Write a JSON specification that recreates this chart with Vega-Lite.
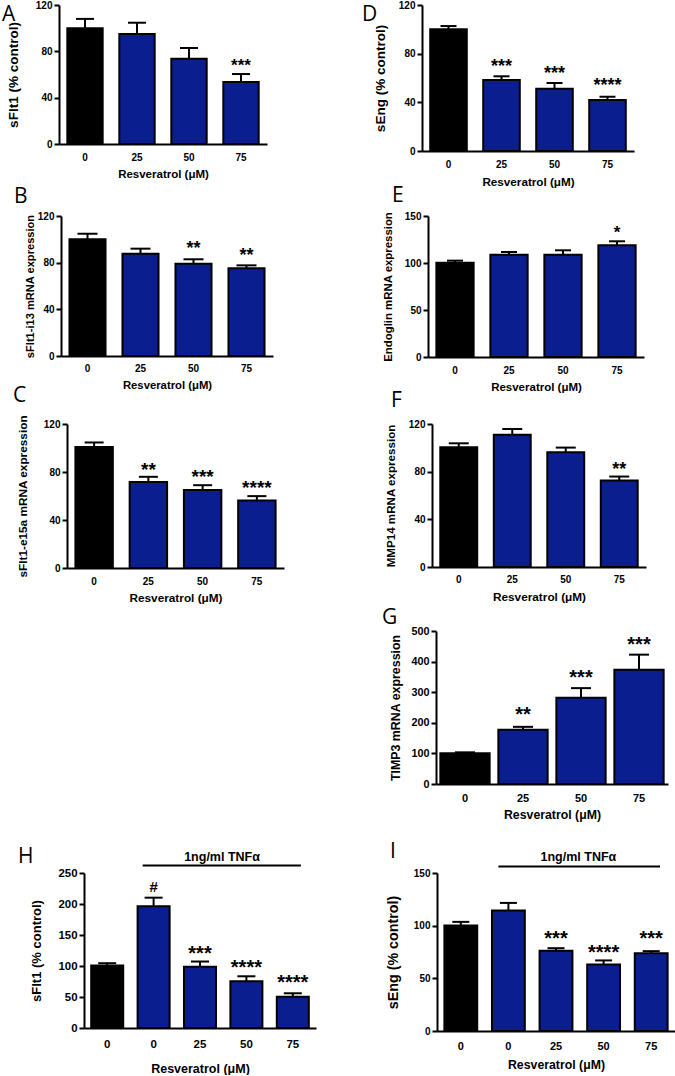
{
"$schema": "https://vega.github.io/schema/vega-lite/v6.json",
"background": "white",
"padding": 0,
"config": {
  "view": {"stroke": null},
  "axis": {"domainColor": "#000", "domainWidth": 2, "tickColor": "#000", "tickWidth": 2, "labelColor": "#000", "titleColor": "#000", "labelFont": "Liberation Sans", "titleFont": "Liberation Sans", "labelFontWeight": "bold", "titleFontWeight": "bold", "grid": false},
  "axisX": {"ticks": false, "tickSize": 0, "labelAngle": 0},
  "axisY": {"tickSize": 5, "labelPadding": 2, "labelOverlap": false}
},
"spacing": -8,
"vconcat": [
  {"spacing": 0, "hconcat": [
   {"width": 2, "height": 186.7, "data": {"values": [{}]}, "mark": {"type": "point", "opacity": 0, "size": 1}, "encoding": {}},
   {"width": 208, "height": 139, "resolve": {"scale": {"x": "independent"}},
    "layer": [
     {"data": {"values": [{"dose": "0", "g": "c", "m": 100, "u": 108}, {"dose": "25", "g": "r", "m": 95, "u": 104.7}, {"dose": "50", "g": "r", "m": 73.6, "u": 82.9}, {"dose": "75", "g": "r", "m": 53.5, "u": 60.4, "s": "***", "sy": 71.9}]},
      "encoding": {"x": {"field": "dose", "type": "nominal", "sort": ["0", "25", "50", "75"], "title": "Resveratrol (μM)", "scale": {"paddingInner": 0.32, "paddingOuter": 0.16}, "axis": {"labelFontSize": 10, "labelPadding": 8, "titleFontSize": 11.5, "titlePadding": 6}}},
      "layer": [
       {"mark": {"type": "rule", "color": "#000", "strokeWidth": 2, "opacity": 1}, "encoding": {"y": {"field": "m", "type": "quantitative", "title": "sFlt1 (% control)", "axis": {"values": [0, 40, 80, 120], "labelOverlap": false, "labelFontSize": 10, "titleFontSize": 13.5, "titlePadding": 15}}, "y2": {"field": "u"}}},
       {"mark": {"type": "tick", "color": "#000", "thickness": 2, "size": 18, "opacity": 1}, "encoding": {"y": {"field": "u", "type": "quantitative", "title": "sFlt1 (% control)", "axis": {"values": [0, 40, 80, 120], "labelOverlap": false, "labelFontSize": 10, "titleFontSize": 13.5, "titlePadding": 15}}}},
       {"mark": {"type": "bar", "stroke": "#000", "strokeWidth": 2, "opacity": 1}, "encoding": {"y": {"field": "m", "type": "quantitative", "title": "sFlt1 (% control)", "scale": {"domain": [0, 120], "nice": false}, "axis": {"values": [0, 40, 80, 120], "labelOverlap": false, "labelFontSize": 10, "titleFontSize": 13.5, "titlePadding": 15}}, "color": {"field": "g", "type": "nominal", "scale": {"domain": ["c", "r"], "range": ["#000000", "#0b1e8f"]}, "legend": null}}},
       {"transform": [{"filter": "datum.s"}], "mark": {"type": "text", "font": "Liberation Sans", "fontWeight": "bold", "fontSize": 17, "baseline": "middle", "dy": 5, "color": "#000"}, "encoding": {"y": {"field": "sy", "type": "quantitative", "title": "sFlt1 (% control)", "axis": {"values": [0, 40, 80, 120], "labelOverlap": false, "labelFontSize": 10, "titleFontSize": 13.5, "titlePadding": 15}}, "text": {"field": "s"}}}
      ]},
     {"data": {"values": [{"lx": -0.274, "ly": 106.2, "l": "A"}]},
      "mark": {"type": "text", "font": "Open Sans", "fontSize": 21, "align": "left", "baseline": "alphabetic", "color": "#000"},
      "encoding": {"x": {"field": "lx", "type": "quantitative", "scale": {"domain": [0, 1]}, "axis": null}, "y": {"field": "ly", "type": "quantitative", "title": "sFlt1 (% control)", "axis": {"values": [0, 40, 80, 120], "labelOverlap": false, "labelFontSize": 10, "titleFontSize": 13.5, "titlePadding": 15}}, "text": {"field": "l"}}}
    ]},
   {"width": 95, "height": 1, "data": {"values": [{}]}, "mark": {"type": "point", "opacity": 0, "size": 1}, "encoding": {}},
   {"width": 212, "height": 146, "resolve": {"scale": {"x": "independent"}},
    "layer": [
     {"data": {"values": [{"dose": "0", "g": "c", "m": 100, "u": 102.7}, {"dose": "25", "g": "r", "m": 58.4, "u": 61.4, "s": "***", "sy": 73.4}, {"dose": "50", "g": "r", "m": 51.2, "u": 55.9, "s": "***", "sy": 67.6}, {"dose": "75", "g": "r", "m": 41.9, "u": 44.6, "s": "****", "sy": 57.5}]},
      "encoding": {"x": {"field": "dose", "type": "nominal", "sort": ["0", "25", "50", "75"], "title": "Resveratrol (μM)", "scale": {"paddingInner": 0.31, "paddingOuter": 0.155}, "axis": {"labelFontSize": 10, "labelPadding": 8.6, "titleFontSize": 11.7, "titlePadding": 7}}},
      "layer": [
       {"mark": {"type": "rule", "color": "#000", "strokeWidth": 2, "opacity": 1}, "encoding": {"y": {"field": "m", "type": "quantitative", "title": "sEng (% control)", "axis": {"values": [0, 40, 80, 120], "labelOverlap": false, "labelFontSize": 10, "titleFontSize": 13.5, "titlePadding": 11}}, "y2": {"field": "u"}}},
       {"mark": {"type": "tick", "color": "#000", "thickness": 2, "size": 16, "opacity": 1}, "encoding": {"y": {"field": "u", "type": "quantitative", "title": "sEng (% control)", "axis": {"values": [0, 40, 80, 120], "labelOverlap": false, "labelFontSize": 10, "titleFontSize": 13.5, "titlePadding": 11}}}},
       {"mark": {"type": "bar", "stroke": "#000", "strokeWidth": 2, "opacity": 1}, "encoding": {"y": {"field": "m", "type": "quantitative", "title": "sEng (% control)", "scale": {"domain": [0, 120], "nice": false}, "axis": {"values": [0, 40, 80, 120], "labelOverlap": false, "labelFontSize": 10, "titleFontSize": 13.5, "titlePadding": 11}}, "color": {"field": "g", "type": "nominal", "scale": {"domain": ["c", "r"], "range": ["#000000", "#0b1e8f"]}, "legend": null}}},
       {"transform": [{"filter": "datum.s"}], "mark": {"type": "text", "font": "Liberation Sans", "fontWeight": "bold", "fontSize": 18, "baseline": "middle", "dy": 5, "color": "#000"}, "encoding": {"y": {"field": "sy", "type": "quantitative", "title": "sEng (% control)", "axis": {"values": [0, 40, 80, 120], "labelOverlap": false, "labelFontSize": 10, "titleFontSize": 13.5, "titlePadding": 11}}, "text": {"field": "s"}}}
      ]},
     {"data": {"values": [{"lx": -0.283, "ly": 106.8, "l": "D"}]},
      "mark": {"type": "text", "font": "Open Sans", "fontSize": 21, "align": "left", "baseline": "alphabetic", "color": "#000"},
      "encoding": {"x": {"field": "lx", "type": "quantitative", "scale": {"domain": [0, 1]}, "axis": null}, "y": {"field": "ly", "type": "quantitative", "title": "sEng (% control)", "axis": {"values": [0, 40, 80, 120], "labelOverlap": false, "labelFontSize": 10, "titleFontSize": 13.5, "titlePadding": 11}}, "text": {"field": "l"}}}
    ]}
  ]},
  {"spacing": 0, "hconcat": [
   {"width": 13, "height": 175.7, "data": {"values": [{}]}, "mark": {"type": "point", "opacity": 0, "size": 1}, "encoding": {}},
   {"width": 212, "height": 140, "resolve": {"scale": {"x": "independent"}},
    "layer": [
     {"data": {"values": [{"dose": "0", "g": "c", "m": 100, "u": 104.8}, {"dose": "25", "g": "r", "m": 87.7, "u": 92}, {"dose": "50", "g": "r", "m": 79.1, "u": 82.9, "s": "**", "sy": 96.3}, {"dose": "75", "g": "r", "m": 75.2, "u": 77.7, "s": "**", "sy": 90}]},
      "encoding": {"x": {"field": "dose", "type": "nominal", "sort": ["0", "25", "50", "75"], "title": "Resveratrol (μM)", "scale": {"paddingInner": 0.32, "paddingOuter": 0.16}, "axis": {"labelFontSize": 10, "labelPadding": 7.6, "titleFontSize": 11.3, "titlePadding": 6}}},
      "layer": [
       {"mark": {"type": "rule", "color": "#000", "strokeWidth": 2, "opacity": 1}, "encoding": {"y": {"field": "m", "type": "quantitative", "title": "sFlt1-i13 mRNA expression", "axis": {"values": [0, 40, 80, 120], "labelOverlap": false, "labelFontSize": 10, "titleFontSize": 11.1, "titlePadding": 2.3}}, "y2": {"field": "u"}}},
       {"mark": {"type": "tick", "color": "#000", "thickness": 2, "size": 20, "opacity": 1}, "encoding": {"y": {"field": "u", "type": "quantitative", "title": "sFlt1-i13 mRNA expression", "axis": {"values": [0, 40, 80, 120], "labelOverlap": false, "labelFontSize": 10, "titleFontSize": 11.1, "titlePadding": 2.3}}}},
       {"mark": {"type": "bar", "stroke": "#000", "strokeWidth": 2, "opacity": 1}, "encoding": {"y": {"field": "m", "type": "quantitative", "title": "sFlt1-i13 mRNA expression", "scale": {"domain": [0, 120], "nice": false}, "axis": {"values": [0, 40, 80, 120], "labelOverlap": false, "labelFontSize": 10, "titleFontSize": 11.1, "titlePadding": 2.3}}, "color": {"field": "g", "type": "nominal", "scale": {"domain": ["c", "r"], "range": ["#000000", "#0b1e8f"]}, "legend": null}}},
       {"transform": [{"filter": "datum.s"}], "mark": {"type": "text", "font": "Liberation Sans", "fontWeight": "bold", "fontSize": 18, "baseline": "middle", "dy": 5, "color": "#000"}, "encoding": {"y": {"field": "sy", "type": "quantitative", "title": "sFlt1-i13 mRNA expression", "axis": {"values": [0, 40, 80, 120], "labelOverlap": false, "labelFontSize": 10, "titleFontSize": 11.1, "titlePadding": 2.3}}, "text": {"field": "s"}}}
      ]},
     {"data": {"values": [{"lx": -0.2217, "ly": 131.1, "l": "B"}]},
      "mark": {"type": "text", "font": "Open Sans", "fontSize": 21, "align": "left", "baseline": "alphabetic", "color": "#000"},
      "encoding": {"x": {"field": "lx", "type": "quantitative", "scale": {"domain": [0, 1]}, "axis": null}, "y": {"field": "ly", "type": "quantitative", "title": "sFlt1-i13 mRNA expression", "axis": {"values": [0, 40, 80, 120], "labelOverlap": false, "labelFontSize": 10, "titleFontSize": 11.1, "titlePadding": 2.3}}, "text": {"field": "l"}}}
    ]},
   {"width": 108.5, "height": 1, "data": {"values": [{}]}, "mark": {"type": "point", "opacity": 0, "size": 1}, "encoding": {}},
   {"width": 216, "height": 141, "resolve": {"scale": {"x": "independent"}},
    "layer": [
     {"data": {"values": [{"dose": "0", "g": "c", "m": 100.3, "u": 102.5}, {"dose": "25", "g": "r", "m": 108.8, "u": 111.7}, {"dose": "50", "g": "r", "m": 108.8, "u": 113.5}, {"dose": "75", "g": "r", "m": 118.8, "u": 123.1, "s": "*", "sy": 137.2}]},
      "encoding": {"x": {"field": "dose", "type": "nominal", "sort": ["0", "25", "50", "75"], "title": "Resveratrol (μM)", "scale": {"paddingInner": 0.31, "paddingOuter": 0.155}, "axis": {"labelFontSize": 10, "labelPadding": 8.3, "titleFontSize": 11.5, "titlePadding": 6}}},
      "layer": [
       {"mark": {"type": "rule", "color": "#000", "strokeWidth": 2, "opacity": 1}, "encoding": {"y": {"field": "m", "type": "quantitative", "title": "Endoglin mRNA expression", "axis": {"values": [0, 50, 100, 150], "labelOverlap": false, "labelFontSize": 10, "titleFontSize": 11.4, "titlePadding": 11.3}}, "y2": {"field": "u"}}},
       {"mark": {"type": "tick", "color": "#000", "thickness": 2, "size": 16, "opacity": 1}, "encoding": {"y": {"field": "u", "type": "quantitative", "title": "Endoglin mRNA expression", "axis": {"values": [0, 50, 100, 150], "labelOverlap": false, "labelFontSize": 10, "titleFontSize": 11.4, "titlePadding": 11.3}}}},
       {"mark": {"type": "bar", "stroke": "#000", "strokeWidth": 2, "opacity": 1}, "encoding": {"y": {"field": "m", "type": "quantitative", "title": "Endoglin mRNA expression", "scale": {"domain": [0, 150], "nice": false}, "axis": {"values": [0, 50, 100, 150], "labelOverlap": false, "labelFontSize": 10, "titleFontSize": 11.4, "titlePadding": 11.3}}, "color": {"field": "g", "type": "nominal", "scale": {"domain": ["c", "r"], "range": ["#000000", "#0b1e8f"]}, "legend": null}}},
       {"transform": [{"filter": "datum.s"}], "mark": {"type": "text", "font": "Liberation Sans", "fontWeight": "bold", "fontSize": 17, "baseline": "middle", "dy": 5, "color": "#000"}, "encoding": {"y": {"field": "sy", "type": "quantitative", "title": "Endoglin mRNA expression", "axis": {"values": [0, 50, 100, 150], "labelOverlap": false, "labelFontSize": 10, "titleFontSize": 11.4, "titlePadding": 11.3}}, "text": {"field": "s"}}}
      ]},
     {"data": {"values": [{"lx": -0.1667, "ly": 164.9, "l": "E"}]},
      "mark": {"type": "text", "font": "Open Sans", "fontSize": 21, "align": "left", "baseline": "alphabetic", "color": "#000"},
      "encoding": {"x": {"field": "lx", "type": "quantitative", "scale": {"domain": [0, 1]}, "axis": null}, "y": {"field": "ly", "type": "quantitative", "title": "Endoglin mRNA expression", "axis": {"values": [0, 50, 100, 150], "labelOverlap": false, "labelFontSize": 10, "titleFontSize": 11.4, "titlePadding": 11.3}}, "text": {"field": "l"}}}
    ]}
  ]},
  {"spacing": 0, "hconcat": [
   {"width": 13, "height": 189.2, "data": {"values": [{}]}, "mark": {"type": "point", "opacity": 0, "size": 1}, "encoding": {}},
   {"width": 217, "height": 144, "resolve": {"scale": {"x": "independent"}},
    "layer": [
     {"data": {"values": [{"dose": "0", "g": "c", "m": 100.8, "u": 104.6}, {"dose": "25", "g": "r", "m": 71.6, "u": 76, "s": "**", "sy": 85.8}, {"dose": "50", "g": "r", "m": 64.9, "u": 69, "s": "***", "sy": 80.2}, {"dose": "75", "g": "r", "m": 56.2, "u": 59.9, "s": "****", "sy": 71.2}]},
      "encoding": {"x": {"field": "dose", "type": "nominal", "sort": ["0", "25", "50", "75"], "title": "Resveratrol (μM)", "scale": {"paddingInner": 0.31, "paddingOuter": 0.155}, "axis": {"labelFontSize": 10, "labelPadding": 8.3, "titleFontSize": 11.8, "titlePadding": 6.6}}},
      "layer": [
       {"mark": {"type": "rule", "color": "#000", "strokeWidth": 2, "opacity": 1}, "encoding": {"y": {"field": "m", "type": "quantitative", "title": "sFlt1-e15a mRNA expression", "axis": {"values": [0, 40, 80, 120], "labelOverlap": false, "labelFontSize": 10, "titleFontSize": 11.8, "titlePadding": 15.3}}, "y2": {"field": "u"}}},
       {"mark": {"type": "tick", "color": "#000", "thickness": 2, "size": 19, "opacity": 1}, "encoding": {"y": {"field": "u", "type": "quantitative", "title": "sFlt1-e15a mRNA expression", "axis": {"values": [0, 40, 80, 120], "labelOverlap": false, "labelFontSize": 10, "titleFontSize": 11.8, "titlePadding": 15.3}}}},
       {"mark": {"type": "bar", "stroke": "#000", "strokeWidth": 2, "opacity": 1}, "encoding": {"y": {"field": "m", "type": "quantitative", "title": "sFlt1-e15a mRNA expression", "scale": {"domain": [0, 120], "nice": false}, "axis": {"values": [0, 40, 80, 120], "labelOverlap": false, "labelFontSize": 10, "titleFontSize": 11.8, "titlePadding": 15.3}}, "color": {"field": "g", "type": "nominal", "scale": {"domain": ["c", "r"], "range": ["#000000", "#0b1e8f"]}, "legend": null}}},
       {"transform": [{"filter": "datum.s"}], "mark": {"type": "text", "font": "Liberation Sans", "fontWeight": "bold", "fontSize": 19, "baseline": "middle", "dy": 5.3, "color": "#000"}, "encoding": {"y": {"field": "sy", "type": "quantitative", "title": "sFlt1-e15a mRNA expression", "axis": {"values": [0, 40, 80, 120], "labelOverlap": false, "labelFontSize": 10, "titleFontSize": 11.8, "titlePadding": 15.3}}, "text": {"field": "s"}}}
      ]},
     {"data": {"values": [{"lx": -0.2488, "ly": 138.3, "l": "C"}]},
      "mark": {"type": "text", "font": "Open Sans", "fontSize": 21, "align": "left", "baseline": "alphabetic", "color": "#000"},
      "encoding": {"x": {"field": "lx", "type": "quantitative", "scale": {"domain": [0, 1]}, "axis": null}, "y": {"field": "ly", "type": "quantitative", "title": "sFlt1-e15a mRNA expression", "axis": {"values": [0, 40, 80, 120], "labelOverlap": false, "labelFontSize": 10, "titleFontSize": 11.8, "titlePadding": 15.3}}, "text": {"field": "l"}}}
    ]},
   {"width": 100.5, "height": 1, "data": {"values": [{}]}, "mark": {"type": "point", "opacity": 0, "size": 1}, "encoding": {}},
   {"width": 214, "height": 143, "resolve": {"scale": {"x": "independent"}},
    "layer": [
     {"data": {"values": [{"dose": "0", "g": "c", "m": 100.5, "u": 103.8}, {"dose": "25", "g": "r", "m": 111, "u": 115.8}, {"dose": "50", "g": "r", "m": 96.3, "u": 100.2}, {"dose": "75", "g": "r", "m": 72.5, "u": 75.9, "s": "**", "sy": 85.9}]},
      "encoding": {"x": {"field": "dose", "type": "nominal", "sort": ["0", "25", "50", "75"], "title": "Resveratrol (μM)", "scale": {"paddingInner": 0.31, "paddingOuter": 0.155}, "axis": {"labelFontSize": 10, "labelPadding": 7.7, "titleFontSize": 11.8, "titlePadding": 7.2}}},
      "layer": [
       {"mark": {"type": "rule", "color": "#000", "strokeWidth": 2, "opacity": 1}, "encoding": {"y": {"field": "m", "type": "quantitative", "title": "MMP14 mRNA expression", "axis": {"values": [0, 40, 80, 120], "labelOverlap": false, "labelFontSize": 10, "titleFontSize": 11.6, "titlePadding": 12.3}}, "y2": {"field": "u"}}},
       {"mark": {"type": "tick", "color": "#000", "thickness": 2, "size": 20, "opacity": 1}, "encoding": {"y": {"field": "u", "type": "quantitative", "title": "MMP14 mRNA expression", "axis": {"values": [0, 40, 80, 120], "labelOverlap": false, "labelFontSize": 10, "titleFontSize": 11.6, "titlePadding": 12.3}}}},
       {"mark": {"type": "bar", "stroke": "#000", "strokeWidth": 2, "opacity": 1}, "encoding": {"y": {"field": "m", "type": "quantitative", "title": "MMP14 mRNA expression", "scale": {"domain": [0, 120], "nice": false}, "axis": {"values": [0, 40, 80, 120], "labelOverlap": false, "labelFontSize": 10, "titleFontSize": 11.6, "titlePadding": 12.3}}, "color": {"field": "g", "type": "nominal", "scale": {"domain": ["c", "r"], "range": ["#000000", "#0b1e8f"]}, "legend": null}}},
       {"transform": [{"filter": "datum.s"}], "mark": {"type": "text", "font": "Liberation Sans", "fontWeight": "bold", "fontSize": 18, "baseline": "middle", "dy": 5, "color": "#000"}, "encoding": {"y": {"field": "sy", "type": "quantitative", "title": "MMP14 mRNA expression", "axis": {"values": [0, 40, 80, 120], "labelOverlap": false, "labelFontSize": 10, "titleFontSize": 11.6, "titlePadding": 12.3}}, "text": {"field": "s"}}}
      ]},
     {"data": {"values": [{"lx": -0.1916, "ly": 134.3, "l": "F"}]},
      "mark": {"type": "text", "font": "Open Sans", "fontSize": 21, "align": "left", "baseline": "alphabetic", "color": "#000"},
      "encoding": {"x": {"field": "lx", "type": "quantitative", "scale": {"domain": [0, 1]}, "axis": null}, "y": {"field": "ly", "type": "quantitative", "title": "MMP14 mRNA expression", "axis": {"values": [0, 40, 80, 120], "labelOverlap": false, "labelFontSize": 10, "titleFontSize": 11.6, "titlePadding": 12.3}}, "text": {"field": "l"}}}
    ]}
  ]},
  {"spacing": 0, "hconcat": [
   {"width": 381, "height": 217.2, "data": {"values": [{}]}, "mark": {"type": "point", "opacity": 0, "size": 1}, "encoding": {}},
   {"width": 232, "height": 153, "resolve": {"scale": {"x": "independent"}},
    "layer": [
     {"data": {"values": [{"dose": "0", "g": "c", "m": 100.3, "u": 103.5}, {"dose": "25", "g": "r", "m": 176.9, "u": 186.8, "s": "**", "sy": 242.5}, {"dose": "50", "g": "r", "m": 281.8, "u": 313.3, "s": "***", "sy": 365.7}, {"dose": "75", "g": "r", "m": 373.5, "u": 422.7, "s": "***", "sy": 471.8}]},
      "encoding": {"x": {"field": "dose", "type": "nominal", "sort": ["0", "25", "50", "75"], "title": "Resveratrol (μM)", "scale": {"paddingInner": 0.15, "paddingOuter": 0.075}, "axis": {"labelFontSize": 11, "labelPadding": 8.6, "titleFontSize": 12.3, "titlePadding": 4.8}}},
      "layer": [
       {"mark": {"type": "rule", "color": "#000", "strokeWidth": 2, "opacity": 1}, "encoding": {"y": {"field": "m", "type": "quantitative", "title": "TIMP3 mRNA expression", "axis": {"values": [0, 100, 200, 300, 400, 500], "labelOverlap": false, "labelFontSize": 10.8, "titleFontSize": 12.4, "titlePadding": 8}}, "y2": {"field": "u"}}},
       {"mark": {"type": "tick", "color": "#000", "thickness": 2, "size": 20, "opacity": 1}, "encoding": {"y": {"field": "u", "type": "quantitative", "title": "TIMP3 mRNA expression", "axis": {"values": [0, 100, 200, 300, 400, 500], "labelOverlap": false, "labelFontSize": 10.8, "titleFontSize": 12.4, "titlePadding": 8}}}},
       {"mark": {"type": "bar", "stroke": "#000", "strokeWidth": 2, "opacity": 1}, "encoding": {"y": {"field": "m", "type": "quantitative", "title": "TIMP3 mRNA expression", "scale": {"domain": [0, 500], "nice": false}, "axis": {"values": [0, 100, 200, 300, 400, 500], "labelOverlap": false, "labelFontSize": 10.8, "titleFontSize": 12.4, "titlePadding": 8}}, "color": {"field": "g", "type": "nominal", "scale": {"domain": ["c", "r"], "range": ["#000000", "#0b1e8f"]}, "legend": null}}},
       {"transform": [{"filter": "datum.s"}], "mark": {"type": "text", "font": "Liberation Sans", "fontWeight": "bold", "fontSize": 20, "baseline": "middle", "dy": 5.6, "color": "#000"}, "encoding": {"y": {"field": "sy", "type": "quantitative", "title": "TIMP3 mRNA expression", "axis": {"values": [0, 100, 200, 300, 400, 500], "labelOverlap": false, "labelFontSize": 10.8, "titleFontSize": 12.4, "titlePadding": 8}}, "text": {"field": "s"}}}
      ]},
     {"data": {"values": [{"lx": -0.2328, "ly": 522.9, "l": "G"}]},
      "mark": {"type": "text", "font": "Open Sans", "fontSize": 21, "align": "left", "baseline": "alphabetic", "color": "#000"},
      "encoding": {"x": {"field": "lx", "type": "quantitative", "scale": {"domain": [0, 1]}, "axis": null}, "y": {"field": "ly", "type": "quantitative", "title": "TIMP3 mRNA expression", "axis": {"values": [0, 100, 200, 300, 400, 500], "labelOverlap": false, "labelFontSize": 10.8, "titleFontSize": 12.4, "titlePadding": 8}}, "text": {"field": "l"}}}
    ]}
  ]},
  {"spacing": 0, "hconcat": [
   {"width": 17, "height": 1, "data": {"values": [{}]}, "mark": {"type": "point", "opacity": 0, "size": 1}, "encoding": {}},
   {"width": 232, "height": 155, "resolve": {"scale": {"x": "independent"}},
    "layer": [
     {"data": {"values": [{"dose": "c", "g": "c", "m": 100.7, "u": 104.5}, {"dose": "0", "g": "r", "m": 196.2, "u": 210.2, "h": "#", "hy": 228.5}, {"dose": "25", "g": "r", "m": 98.6, "u": 107.2, "s": "***", "sy": 127.7}, {"dose": "50", "g": "r", "m": 75.4, "u": 83.4, "s": "****", "sy": 106}, {"dose": "75", "g": "r", "m": 50.6, "u": 56, "s": "****", "sy": 80.9}]},
      "encoding": {"x": {"field": "dose", "type": "nominal", "sort": ["c", "0", "25", "50", "75"], "title": "Resveratrol (μM)", "scale": {"paddingInner": 0.31, "paddingOuter": 0.155}, "axis": {"labelExpr": "datum.value == 'c' ? '0' : datum.value", "labelFontSize": 11.5, "labelPadding": 10, "titleFontSize": 12.5, "titlePadding": 13}}},
      "layer": [
       {"mark": {"type": "rule", "color": "#000", "strokeWidth": 2, "opacity": 1}, "encoding": {"y": {"field": "m", "type": "quantitative", "title": "sFlt1 (% control)", "axis": {"values": [0, 50, 100, 150, 200, 250], "labelOverlap": false, "labelFontSize": 11.4, "titleFontSize": 13, "titlePadding": 14}}, "y2": {"field": "u"}}},
       {"mark": {"type": "tick", "color": "#000", "thickness": 2, "size": 18, "opacity": 1}, "encoding": {"y": {"field": "u", "type": "quantitative", "title": "sFlt1 (% control)", "axis": {"values": [0, 50, 100, 150, 200, 250], "labelOverlap": false, "labelFontSize": 11.4, "titleFontSize": 13, "titlePadding": 14}}}},
       {"mark": {"type": "bar", "stroke": "#000", "strokeWidth": 2, "opacity": 1}, "encoding": {"y": {"field": "m", "type": "quantitative", "title": "sFlt1 (% control)", "scale": {"domain": [0, 250], "nice": false}, "axis": {"values": [0, 50, 100, 150, 200, 250], "labelOverlap": false, "labelFontSize": 11.4, "titleFontSize": 13, "titlePadding": 14}}, "color": {"field": "g", "type": "nominal", "scale": {"domain": ["c", "r"], "range": ["#000000", "#0b1e8f"]}, "legend": null}}},
       {"transform": [{"filter": "datum.s"}], "mark": {"type": "text", "font": "Liberation Sans", "fontWeight": "bold", "fontSize": 20, "baseline": "middle", "dy": 5.6, "color": "#000"}, "encoding": {"y": {"field": "sy", "type": "quantitative", "title": "sFlt1 (% control)", "axis": {"values": [0, 50, 100, 150, 200, 250], "labelOverlap": false, "labelFontSize": 11.4, "titleFontSize": 13, "titlePadding": 14}}, "text": {"field": "s"}}},
       {"transform": [{"filter": "datum.h"}], "mark": {"type": "text", "font": "Liberation Sans", "fontWeight": "bold", "fontSize": 15, "baseline": "middle", "dy": 1, "color": "#000"}, "encoding": {"y": {"field": "hy", "type": "quantitative", "title": "sFlt1 (% control)", "axis": {"values": [0, 50, 100, 150, 200, 250], "labelOverlap": false, "labelFontSize": 11.4, "titleFontSize": 13, "titlePadding": 14}}, "text": {"field": "h"}}}
      ]},
     {"data": {"values": [{"a": 0.253, "b": 0.935, "ly": 262, "tx": 0.595, "ty": 278, "t": "1ng/ml TNFα", "lx": -0.2845, "lly": 266.1, "l": "H"}]},
      "layer": [
       {"mark": {"type": "rule", "color": "#000", "strokeWidth": 2}, "encoding": {"x": {"field": "a", "type": "quantitative", "scale": {"domain": [0, 1]}, "axis": null}, "x2": {"field": "b"}, "y": {"field": "ly", "type": "quantitative", "title": "sFlt1 (% control)", "axis": {"values": [0, 50, 100, 150, 200, 250], "labelOverlap": false, "labelFontSize": 11.4, "titleFontSize": 13, "titlePadding": 14}}}},
       {"mark": {"type": "text", "font": "Liberation Sans", "fontWeight": "bold", "fontSize": 12.5, "baseline": "middle", "dy": 1, "color": "#000"}, "encoding": {"x": {"field": "tx", "type": "quantitative"}, "y": {"field": "ty", "type": "quantitative", "title": "sFlt1 (% control)", "axis": {"values": [0, 50, 100, 150, 200, 250], "labelOverlap": false, "labelFontSize": 11.4, "titleFontSize": 13, "titlePadding": 14}}, "text": {"field": "t"}}},
       {"mark": {"type": "text", "font": "Open Sans", "fontSize": 21, "align": "left", "baseline": "alphabetic", "color": "#000"}, "encoding": {"x": {"field": "lx", "type": "quantitative"}, "y": {"field": "lly", "type": "quantitative", "title": "sFlt1 (% control)", "axis": {"values": [0, 50, 100, 150, 200, 250], "labelOverlap": false, "labelFontSize": 11.4, "titleFontSize": 13, "titlePadding": 14}}, "text": {"field": "l"}}}
      ]}
    ]},
   {"width": 69.7, "height": 1, "data": {"values": [{}]}, "mark": {"type": "point", "opacity": 0, "size": 1}, "encoding": {}},
   {"width": 238, "height": 158, "resolve": {"scale": {"x": "independent"}},
    "layer": [
     {"data": {"values": [{"dose": "c", "g": "c", "m": 100.1, "u": 103.6}, {"dose": "0", "g": "r", "m": 114.3, "u": 121.6}, {"dose": "25", "g": "r", "m": 76.1, "u": 78.6, "s": "***", "sy": 92.2}, {"dose": "50", "g": "r", "m": 63.2, "u": 67, "s": "****", "sy": 79.5}, {"dose": "75", "g": "r", "m": 73.9, "u": 75.8, "s": "***", "sy": 92.2}]},
      "encoding": {"x": {"field": "dose", "type": "nominal", "sort": ["c", "0", "25", "50", "75"], "title": "Resveratrol (μM)", "scale": {"paddingInner": 0.31, "paddingOuter": 0.155}, "axis": {"labelExpr": "datum.value == 'c' ? '0' : datum.value", "labelFontSize": 11, "labelPadding": 9.3, "titleFontSize": 12.3, "titlePadding": 6.8}}},
      "layer": [
       {"mark": {"type": "rule", "color": "#000", "strokeWidth": 2, "opacity": 1}, "encoding": {"y": {"field": "m", "type": "quantitative", "title": "sEng (% control)", "axis": {"values": [0, 50, 100, 150], "labelOverlap": false, "labelFontSize": 10, "titleFontSize": 14.3, "titlePadding": 13.3}}, "y2": {"field": "u"}}},
       {"mark": {"type": "tick", "color": "#000", "thickness": 2, "size": 17, "opacity": 1}, "encoding": {"y": {"field": "u", "type": "quantitative", "title": "sEng (% control)", "axis": {"values": [0, 50, 100, 150], "labelOverlap": false, "labelFontSize": 10, "titleFontSize": 14.3, "titlePadding": 13.3}}}},
       {"mark": {"type": "bar", "stroke": "#000", "strokeWidth": 2, "opacity": 1}, "encoding": {"y": {"field": "m", "type": "quantitative", "title": "sEng (% control)", "scale": {"domain": [0, 150], "nice": false}, "axis": {"values": [0, 50, 100, 150], "labelOverlap": false, "labelFontSize": 10, "titleFontSize": 14.3, "titlePadding": 13.3}}, "color": {"field": "g", "type": "nominal", "scale": {"domain": ["c", "r"], "range": ["#000000", "#0b1e8f"]}, "legend": null}}},
       {"transform": [{"filter": "datum.s"}], "mark": {"type": "text", "font": "Liberation Sans", "fontWeight": "bold", "fontSize": 20, "baseline": "middle", "dy": 5.6, "color": "#000"}, "encoding": {"y": {"field": "sy", "type": "quantitative", "title": "sEng (% control)", "axis": {"values": [0, 50, 100, 150], "labelOverlap": false, "labelFontSize": 10, "titleFontSize": 14.3, "titlePadding": 13.3}}, "text": {"field": "s"}}}
      ]},
     {"data": {"values": [{"a": 0.258, "b": 0.937, "ly": 156.1, "tx": 0.594, "ty": 166.5, "t": "1ng/ml TNFα", "lx": -0.1975, "lly": 164.2, "l": "I"}]},
      "layer": [
       {"mark": {"type": "rule", "color": "#000", "strokeWidth": 2}, "encoding": {"x": {"field": "a", "type": "quantitative", "scale": {"domain": [0, 1]}, "axis": null}, "x2": {"field": "b"}, "y": {"field": "ly", "type": "quantitative", "title": "sEng (% control)", "axis": {"values": [0, 50, 100, 150], "labelOverlap": false, "labelFontSize": 10, "titleFontSize": 14.3, "titlePadding": 13.3}}}},
       {"mark": {"type": "text", "font": "Liberation Sans", "fontWeight": "bold", "fontSize": 12.5, "baseline": "middle", "dy": 1, "color": "#000"}, "encoding": {"x": {"field": "tx", "type": "quantitative"}, "y": {"field": "ty", "type": "quantitative", "title": "sEng (% control)", "axis": {"values": [0, 50, 100, 150], "labelOverlap": false, "labelFontSize": 10, "titleFontSize": 14.3, "titlePadding": 13.3}}, "text": {"field": "t"}}},
       {"mark": {"type": "text", "font": "Open Sans", "fontSize": 21, "align": "left", "baseline": "alphabetic", "color": "#000"}, "encoding": {"x": {"field": "lx", "type": "quantitative"}, "y": {"field": "lly", "type": "quantitative", "title": "sEng (% control)", "axis": {"values": [0, 50, 100, 150], "labelOverlap": false, "labelFontSize": 10, "titleFontSize": 14.3, "titlePadding": 13.3}}, "text": {"field": "l"}}}
      ]}
    ]}
  ]}
]
}
